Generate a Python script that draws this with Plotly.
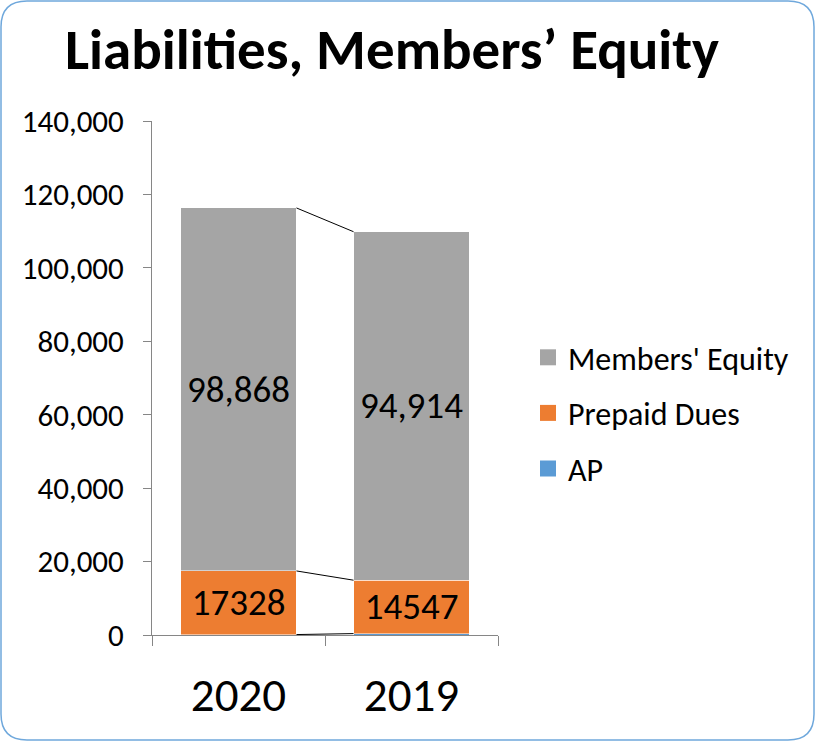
import plotly.graph_objects as go

years = ["2020", "2019"]
ap = [120, 380]
prepaid_dues = [17328, 14547]
members_equity = [98868, 94914]
y_tick_vals = [0, 20000, 40000, 60000, 80000, 100000, 120000, 140000]
y_tick_text = ["0", "20,000", "40,000", "60,000", "80,000", "100,000", "120,000", "140,000"]

colors = {"AP": "#5B9BD5", "Prepaid Dues": "#ED7D31", "Members' Equity": "#A5A5A5"}

W, H = 816, 742
ML, MR, MT, MB = 152, 318, 121, 107
PW, PH = W - ML - MR, H - MT - MB
BAR_W = 0.67
FONT = "Carlito, Calibri, Lato, sans-serif"

x = list(range(len(years)))
fig = go.Figure()
fig.add_bar(x=x, y=ap, name="AP", marker=dict(color=colors["AP"], line=dict(color="white", width=0.5)),
            width=BAR_W, hoverinfo="skip", showlegend=False)
fig.add_bar(x=x, y=prepaid_dues, name="Prepaid Dues",
            marker=dict(color=colors["Prepaid Dues"], line=dict(color="white", width=0.5)), width=BAR_W,
            text=[str(v) for v in prepaid_dues], textposition="inside", insidetextanchor="middle",
            textfont=dict(size=37, color="black", family=FONT), textangle=0, showlegend=False)
fig.add_bar(x=x, y=members_equity, name="Members' Equity",
            marker=dict(color=colors["Members' Equity"], line=dict(color="white", width=0.5)), width=BAR_W,
            text=[f"{v:,}" for v in members_equity], textposition="inside", insidetextanchor="middle",
            textfont=dict(size=37, color="black", family=FONT), textangle=0, showlegend=False)

# series lines between stacks
cum = [0, 0]
for series in (ap, prepaid_dues, members_equity):
    cum = [c + v for c, v in zip(cum, series)]
    fig.add_trace(go.Scatter(x=[x[0] + BAR_W / 2, x[1] - BAR_W / 2], y=cum, mode="lines",
                             line=dict(color="black", width=1), showlegend=False, hoverinfo="skip"))

# legend entries (square swatches)
for i, name in enumerate(["Members' Equity", "Prepaid Dues", "AP"]):
    fig.add_trace(go.Scatter(x=[None], y=[None], mode="markers", name=name, legendgroup=name,
                             marker=dict(symbol="square", size=17, color=colors[name]),
                             legendrank=i + 1))

# rounded border in paper coordinates
def px(v):
    return (v - ML) / PW

def py(v):
    return 1 - (v - MT) / PH

x0, y0, x1, y1, r = 1, 1, 814, 740, 26
path = (f"M {px(x0 + r)},{py(y0)} L {px(x1 - r)},{py(y0)} Q {px(x1)},{py(y0)} {px(x1)},{py(y0 + r)} "
        f"L {px(x1)},{py(y1 - r)} Q {px(x1)},{py(y1)} {px(x1 - r)},{py(y1)} "
        f"L {px(x0 + r)},{py(y1)} Q {px(x0)},{py(y1)} {px(x0)},{py(y1 - r)} "
        f"L {px(x0)},{py(y0 + r)} Q {px(x0)},{py(y0)} {px(x0 + r)},{py(y0)} Z")
fig.add_shape(type="path", path=path, xref="paper", yref="paper",
              line=dict(color="#6FA8DC", width=1.5), layer="below")

fig.update_layout(
    width=W, height=H,
    margin=dict(l=ML, r=MR, t=MT, b=MB),
    barmode="stack",
    paper_bgcolor="white", plot_bgcolor="white",
    font=dict(family=FONT, color="black"),
    title=dict(text="<b>Liabilities, Members’ Equity</b>", x=392 / W, xref="container", xanchor="center",
               y=1 - 49 / H, yanchor="middle", font=dict(size=57, family=FONT, color="black")),
    legend=dict(x=px(528), y=py(330), xanchor="left", yanchor="top",
                font=dict(size=32, family=FONT), itemsizing="trace", tracegroupgap=11,
                bgcolor="rgba(0,0,0,0)"),
    showlegend=True,
)
fig.update_xaxes(range=[-0.5, 1.5], tickvals=x, ticktext=years, ticks="", showgrid=False,
                 showline=True, linecolor="#868686", linewidth=1, zeroline=False,
                 tickfont=dict(size=47, family=FONT), ticklabelstandoff=19,
                 minor=dict(tickvals=[-0.5, 0.5, 1.5], ticks="outside", ticklen=10,
                            tickcolor="#868686", showgrid=False))
fig.update_yaxes(range=[0, 140000], tickvals=y_tick_vals, ticktext=y_tick_text, ticks="outside",
                 ticklen=8, tickcolor="#868686", showgrid=False, showline=True, linecolor="#868686",
                 linewidth=1, zeroline=False, tickfont=dict(size=31, family=FONT), ticklabelstandoff=13)

fig.write_html("out.html", config={"displayModeBar": False},
               post_script="document.body.style.margin='0';")
